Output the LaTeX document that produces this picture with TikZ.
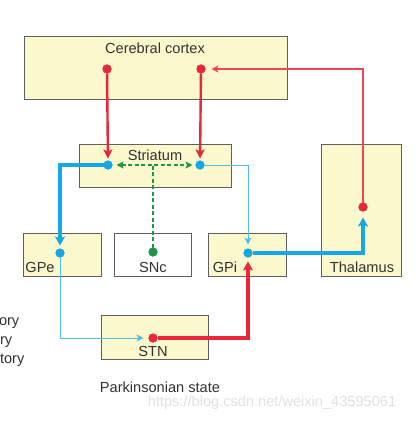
\documentclass[tikz,border=0pt]{standalone}
\usepackage{fontspec}
\setmainfont{Liberation Sans}
\usetikzlibrary{positioning,arrows.meta}

\definecolor{boxfill}{RGB}{252,248,205}
\definecolor{boxline}{RGB}{95,95,95}
\definecolor{exred}{RGB}{234,38,58}
\definecolor{exredL}{RGB}{238,70,85}
\definecolor{inblue}{RGB}{22,168,230}
\definecolor{inblueL}{RGB}{80,190,232}
\definecolor{modgreen}{RGB}{30,150,72}
\definecolor{txtgray}{RGB}{50,50,50}

\begin{document}
\begin{tikzpicture}[x=1pt,y=-1pt]
                        \tikzstyle{every node}=[inner sep=0,outer sep=0,font=\fontsize{14.6}{16}\selectfont,text=txtgray]
                        \tikzstyle{nucleus}=[draw=boxline,fill=boxfill,rectangle,line width=0.9]
                        \tikzstyle{plain}=[nucleus,fill=white]
                        \tikzstyle{dot}=[circle,minimum size=9]
                        \tikzstyle{exc}=[draw=exred,line width=2.4,-{Stealth[length=9,width=9,inset=2]}]
                        \tikzstyle{excthin}=[draw=exredL,line width=1.1,-{Stealth[length=7,width=7,inset=2]}]
                        \tikzstyle{excthick}=[draw=exred,line width=4.2,-{Stealth[length=9,width=10,inset=2]}]
                        \tikzstyle{inh}=[draw=inblue,line width=4,-{Stealth[length=9,width=10,inset=2]}]
                        \tikzstyle{inhthin}=[draw=inblueL,line width=1,-{Stealth[length=7,width=7,inset=2]}]
                        \tikzstyle{mod}=[draw=modgreen,line width=1.6,dashed,dash pattern=on 4 off 2.5]
                        {
                            \useasboundingbox (0,0) rectangle (415,422);

                            \node[nucleus,minimum width=263,minimum height=63] (cortex) at (155.5,67.5) {};
                            \node[nucleus,minimum width=152,minimum height=43] (striatum) at (155,165.5) {};
                            \node[nucleus,minimum width=78,minimum height=43] (gpe) at (62,254.5) {};
                            \node[plain,minimum width=77,minimum height=43] (snc) at (152.5,254.5) {};
                            \node[nucleus,minimum width=78,minimum height=43] (gpi) at (247,254.5) {};
                            \node[nucleus,minimum width=80,minimum height=132] (thalamus) at (361,210) {};
                            \node[nucleus,minimum width=107,minimum height=44] (stn) at (154.5,337) {};

                            \node (cortexText) at (155,48) {Cerebral cortex};
                            \node (striatumText) at (155,155) {Striatum};
                            \node (gpeText) at (40,267) {GPe};
                            \node (sncText) at (153,267) {SNc};
                            \node (gpiText) at (225,267) {GPi};
                            \node (thalamusText) at (362,267) {Thalamus};
                            \node (stnText) at (153,351) {STN};
                            \node (stateText) at (160,387) {Parkinsonian state};

                            \node[anchor=west] (keyA) at (-1,323) {ory};
                            \node[anchor=west] (keyB) at (0,342) {ry};
                            \node[anchor=west] (keyC) at (0,360) {tory};
                            \node[text=black!12] (mark) at (272,403) {https://blog.csdn.net/weixin\_43595061};

                            \foreach \name/\x/\y/\col in {ctxL/107/69/exred,ctxR/201/69/exred,strL/108/165/inblue,strR/200/165/inblue,
                                gpeD/60/253/inblue,sncD/153/252/modgreen,gpiD/248/253/inblue,thalD/363/207/exred,stnD/153/338/exred}
                                \node[dot,fill=\col] (\name) at (\x,\y) {};

                            \draw[exc,shorten >=2] (ctxL) -- (strL);
                            \draw[exc,shorten >=2] (ctxR) -- (strR);
                            \draw[excthin,shorten >=6] (thalD) |- (ctxR);

                            \draw[mod,{Stealth[length=7,width=7,inset=1.5]}-{Stealth[length=7,width=7,inset=1.5]},shorten <=4,shorten >=3] (strL) -- (strR);
                            \draw[mod] (sncD) -- (sncD |- strL);

                            \draw[inh,shorten >=3] (strL) -| (gpeD);
                            \draw[inhthin,shorten >=4] (strR) -| (gpiD);
                            \draw[inh,shorten >=6] (gpiD) -| (thalD);
                            \draw[inhthin,shorten >=5] (gpeD) |- (stnD);
                            \draw[excthick,shorten >=4] (stnD) -| (gpiD);

                            \foreach \name/\col in {ctxL/exred,ctxR/exred,strL/inblue,strR/inblue,gpeD/inblue,sncD/modgreen,gpiD/inblue,thalD/exred,stnD/exred}
                                \fill[\col] (\name) circle (4.5);
                        }
                    \end{tikzpicture}
\end{document}
